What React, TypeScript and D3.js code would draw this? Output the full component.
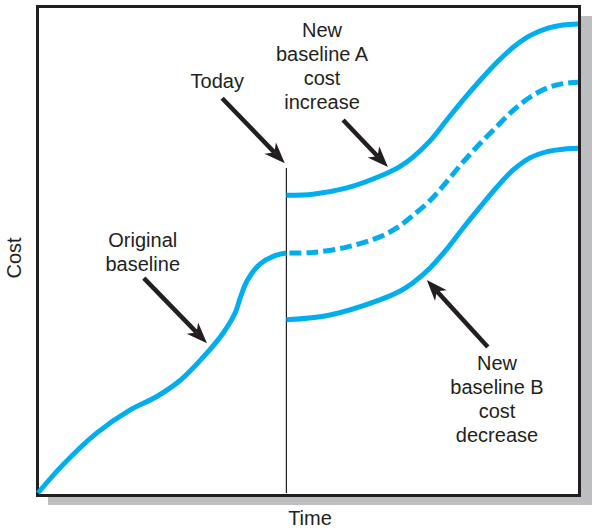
import React from 'react';
import * as d3 from 'd3';

// time (0-100) / cost (0-100)
const originalBaseline = [
  { t: 0, c: 0 }, { t: 4.6, c: 5.8 }, { t: 10.9, c: 12.4 }, { t: 17.0, c: 17.1 },
  { t: 22.0, c: 19.9 }, { t: 26.3, c: 23.2 }, { t: 31.3, c: 28.9 }, { t: 34.3, c: 33.0 },
  { t: 36.5, c: 37.1 }, { t: 37.5, c: 40.4 }, { t: 38.8, c: 43.9 }, { t: 41.1, c: 47.2 },
  { t: 44.0, c: 49.0 }, { t: 46, c: 49.5 },
];
const baselineA = [
  { t: 46, c: 61.4 }, { t: 50.9, c: 61.6 }, { t: 57.2, c: 62.9 }, { t: 63.3, c: 65.3 },
  { t: 67.0, c: 67.3 }, { t: 69.4, c: 69.2 }, { t: 72.6, c: 72.6 }, { t: 75.7, c: 76.9 },
  { t: 78.7, c: 81.0 }, { t: 81.9, c: 85.1 }, { t: 85.0, c: 88.8 }, { t: 88.0, c: 91.9 },
  { t: 91.1, c: 94.3 }, { t: 94.3, c: 95.8 }, { t: 97.2, c: 96.5 }, { t: 100, c: 96.7 },
];
const projected = [
  { t: 46, c: 49.5 }, { t: 50.9, c: 49.6 }, { t: 57.2, c: 50.7 }, { t: 63.3, c: 52.8 },
  { t: 66.5, c: 54.7 }, { t: 69.4, c: 57.2 }, { t: 72.6, c: 60.3 }, { t: 75.7, c: 64.2 },
  { t: 78.7, c: 68.2 }, { t: 81.9, c: 72.1 }, { t: 85.0, c: 75.6 }, { t: 88.0, c: 78.9 },
  { t: 91.1, c: 81.6 }, { t: 94.3, c: 83.5 }, { t: 97.2, c: 84.4 }, { t: 100, c: 84.7 },
];
const baselineB = [
  { t: 46, c: 35.7 }, { t: 54.1, c: 36.7 }, { t: 63.3, c: 39.8 }, { t: 67.0, c: 41.6 },
  { t: 69.4, c: 43.3 }, { t: 72.6, c: 46.4 }, { t: 75.7, c: 50.3 }, { t: 78.7, c: 54.6 },
  { t: 81.9, c: 59.0 }, { t: 85.0, c: 63.1 }, { t: 88.0, c: 66.6 }, { t: 91.1, c: 69.1 },
  { t: 94.3, c: 70.4 }, { t: 98.0, c: 71.0 }, { t: 100, c: 71.1 },
];
const today = 46;
const todayTop = 67;

const labels = [
  { lines: ['Today'], t: 33.2, c: 83.5 },
  { lines: ['New', 'baseline A', 'cost', 'increase'], t: 52.6, c: 94.0 },
  { lines: ['Original', 'baseline'], t: 19.4, c: 50.7 },
  { lines: ['New', 'baseline B', 'cost', 'decrease'], t: 85, c: 25.4 },
];
const arrows = [
  { from: [34.1, 81.4], to: [45.7, 68.0] },
  { from: [56.5, 76.9], to: [64.8, 67.2] },
  { from: [19.6, 44.3], to: [31.3, 30.9] },
  { from: [83.3, 30.1], to: [72.0, 43.9] },
];

const W = 596;
const H = 528;
const blue = '#00aeef';
const ink = '#231f20';
const font = '"Liberation Sans", Arial, Helvetica, sans-serif';

const x = d3.scaleLinear().domain([0, 100]).range([38, 578]);
const y = d3.scaleLinear().domain([0, 100]).range([493, 8]);

const line = d3.line<{ t: number; c: number }>()
  .x(d => x(d.t))
  .y(d => y(d.c))
  .curve(d3.curveCatmullRom.alpha(0.5));

function Arrow({ from, to }: { from: number[]; to: number[] }) {
  const x0 = x(from[0]), y0 = y(from[1]);
  const x1 = x(to[0]), y1 = y(to[1]);
  const len = Math.hypot(x1 - x0, y1 - y0);
  const ux = (x1 - x0) / len, uy = (y1 - y0) / len;
  const nx = -uy, ny = ux;
  const L = 21, hw = 8, notch = 6;
  const head = [
    [x1, y1],
    [x1 - ux * L + nx * hw, y1 - uy * L + ny * hw],
    [x1 - ux * (L - notch), y1 - uy * (L - notch)],
    [x1 - ux * L - nx * hw, y1 - uy * L - ny * hw],
  ];
  return (
    <g>
      <line x1={x0} y1={y0} x2={x1 - ux * (L - notch)} y2={y1 - uy * (L - notch)}
        stroke={ink} strokeWidth={4.5} />
      <path d={'M' + head.map(p => p.join(',')).join('L') + 'Z'} fill={ink} />
    </g>
  );
}

export default function App() {
  return (
    <svg width={W} height={H} style={{ position: 'absolute', left: 0, top: 0, background: '#fff' }}>
      <rect x={48} y={16} width={544} height={489} fill="#bcbec0" />
      <rect x={37.5} y={6.5} width={542} height={489} fill="#fff" stroke={ink} strokeWidth={3} />

      <line x1={x(today)} x2={x(today)} y1={y(todayTop)} y2={y(0)} stroke={ink} strokeWidth={1.2} />

      <path d={line(originalBaseline) || ''} fill="none" stroke={blue} strokeWidth={5} />
      <path d={line(projected) || ''} fill="none" stroke={blue} strokeWidth={5} strokeDasharray="12 5" strokeDashoffset={-3} />
      <path d={line(baselineA) || ''} fill="none" stroke={blue} strokeWidth={5} />
      <path d={line(baselineB) || ''} fill="none" stroke={blue} strokeWidth={5} />

      {arrows.map((a, i) => <Arrow key={i} from={a.from} to={a.to} />)}

      {labels.map((l, i) => (
        <text key={i} x={x(l.t)} y={y(l.c)} textAnchor="middle" fontFamily={font} fontSize={20} fill={ink}>
          {l.lines.map((s, j) => (
            <tspan key={j} x={x(l.t)} dy={j === 0 ? 0 : 24}>{s}</tspan>
          ))}
        </text>
      ))}

      <text x={310} y={525} textAnchor="middle" fontFamily={font} fontSize={20} fill={ink}>Time</text>
      <text transform="translate(21,258) rotate(-90)" textAnchor="middle" fontFamily={font} fontSize={20} fill={ink}>Cost</text>
    </svg>
  );
}
